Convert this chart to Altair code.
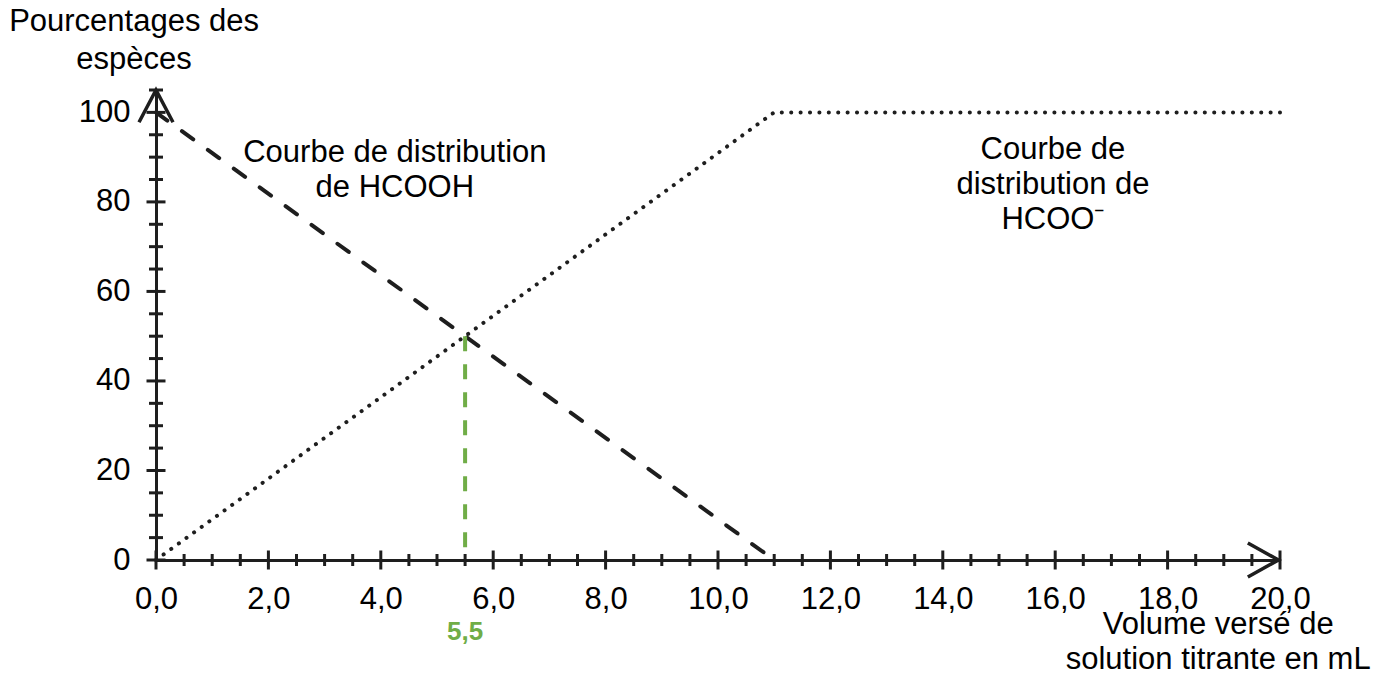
import altair as alt
import pandas as pd

# ---- data ----
acid_x = [0.0, 11.0]          # HCOOH distribution (dashed)
acid_y = [100.0, 0.0]
base_x = [0.0, 11.0, 20.0]    # HCOO- distribution (dotted)
base_y = [0.0, 100.0, 100.0]
equiv_x = [5.5, 5.5]          # green marker at V = 5,5 mL
equiv_y = [50.0, 0.0]
x_major = [0, 2, 4, 6, 8, 10, 12, 14, 16, 18, 20]
x_minor = [0.5, 1, 1.5, 2.5, 3, 3.5, 4.5, 5, 5.5, 6.5, 7, 7.5, 8.5, 9, 9.5,
           10.5, 11, 11.5, 12.5, 13, 13.5, 14.5, 15, 15.5, 16.5, 17, 17.5,
           18.5, 19, 19.5]
y_major = [0, 20, 40, 60, 80, 100]
y_minor = [5, 10, 15, 25, 30, 35, 45, 50, 55, 65, 70, 75, 85, 90, 95, 105]

FONT = "Liberation Sans"
INK = "#1e1e1e"
GREEN = "#70AD47"

xs = alt.Scale(domain=[0, 20], nice=False, zero=False)
ys = alt.Scale(domain=[0, 105], nice=False, zero=False)

acid = pd.DataFrame({"x": acid_x, "y": acid_y})
base = pd.DataFrame({"x": base_x, "y": base_y})
equiv = pd.DataFrame({"x": equiv_x, "y": equiv_y, "o": [0, 1]})

x_axis = alt.Axis(values=x_major, labelExpr="replace(format(datum.value, '.1f'), '.', ',')",
                  title="", grid=False, ticks=False, tickSize=0, domain=True,
                  domainColor=INK, domainWidth=3, labelPadding=24, labelFlush=False,
                  labelOverlap=False,
                  labelFont=FONT, labelFontSize=31, labelColor="black")
y_axis = alt.Axis(values=y_major, format="d", title="", grid=False, ticks=False,
                  tickSize=0, domain=True, domainColor=INK, domainWidth=3,
                  labelPadding=26, labelFlush=False, labelOverlap=False,
                  labelFont=FONT, labelFontSize=31, labelColor="black")


def X(field):
    return alt.X(field, scale=xs, axis=x_axis)


def Y(field):
    return alt.Y(field, scale=ys, axis=y_axis)


def XD(v):
    return alt.XDatum(v, scale=xs, axis=x_axis)


def YD(v):
    return alt.YDatum(v, scale=ys, axis=y_axis)


acid_layer = alt.Chart(acid).mark_line(
    color=INK, strokeWidth=4, strokeDash=[14, 18], strokeCap="round"
).encode(x=X("x:Q"), y=Y("y:Q"))

base_layer = alt.Chart(base).mark_line(
    color=INK, strokeWidth=4, strokeDash=[0.1, 9.3], strokeCap="round"
).encode(x=X("x:Q"), y=Y("y:Q"))

equiv_layer = alt.Chart(equiv).mark_line(
    color=GREEN, strokeWidth=4, strokeDash=[15, 13]
).encode(x=X("x:Q"), y=Y("y:Q"), order=alt.Order("o:Q"))


def ticks(values, horizontal, size):
    df = pd.DataFrame({"v": values})
    if horizontal:
        return alt.Chart(df).mark_tick(orient="horizontal", size=size, thickness=3,
                                       color=INK, opacity=1).encode(x=XD(0), y=Y("v:Q"))
    return alt.Chart(df).mark_tick(orient="vertical", size=size, thickness=3,
                                   color=INK, opacity=1).encode(x=X("v:Q"), y=YD(0))


tick_layers = [
    ticks(x_major, False, 19),
    ticks(x_minor, False, 12),
    ticks(y_major, True, 19),
    ticks(y_minor, True, 14),
]

arrow_df = pd.DataFrame({"a": [0]})
y_arrow = alt.Chart(arrow_df).mark_point(
    shape="M -1 0.95 L 0 -0.95 L 1 0.95", filled=False, size=1156,
    stroke=INK, strokeWidth=3.5, opacity=1, strokeJoin="miter"
).encode(x=XD(0), y=YD(101.4))
x_arrow = alt.Chart(arrow_df).mark_point(
    shape="M -0.9 -1 L 0.9 0 L -0.9 1", filled=False, size=1156,
    stroke=INK, strokeWidth=3.5, opacity=1, strokeJoin="miter"
).encode(x=XD(19.7), y=YD(0))


def label(lines, x, y, size=31, color="black", bold=False, lh=35):
    return alt.Chart(arrow_df).mark_text(
        text=lines, font=FONT, fontSize=size, color=color,
        fontWeight="bold" if bold else "normal", align="center",
        baseline="middle", lineHeight=lh
    ).encode(x=XD(x), y=YD(y))


text_layers = [
    label(["Pourcentages des", "espèces"], -0.39, 120.2, lh=38),
    label(["Courbe de distribution", "de HCOOH"], 4.25, 90.9),
    label(["Courbe de", "distribution de", "HCOO\u207b"], 15.96, 91.6),
    label(["Volume versé de", "solution titrante en mL"], 18.9, -14.5),
    label("5,5", 5.5, -16.1, size=26, color=GREEN, bold=True),
]

chart = alt.layer(
    acid_layer, base_layer, equiv_layer, *tick_layers, y_arrow, x_arrow, *text_layers
).properties(
    width=1124, height=470,
    autosize=alt.AutoSizeParams(type="none"),
    padding={"left": 156, "top": 90, "right": 110, "bottom": 120},
    background="white",
).configure_view(stroke=None)

chart.save("out.html", embed_options={"renderer": "svg", "actions": False})
